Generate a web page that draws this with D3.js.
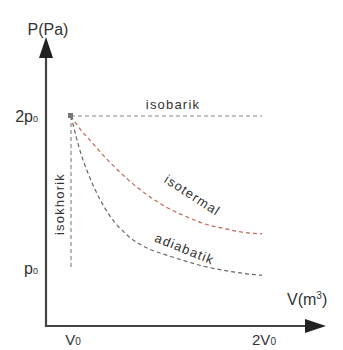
<!DOCTYPE html>
<html><head><meta charset="utf-8">
<script src="https://cdn.jsdelivr.net/npm/d3@7"></script>
<style>body{margin:0;background:#fff}svg{display:block}text{font-family:"Liberation Sans",Arial,sans-serif;fill:#333}</style>
</head><body><svg id="c" width="343" height="350"></svg>
<script>
const volumes = [1, 1.05, 1.1, 1.2, 1.3, 1.4, 1.5, 1.6, 1.7, 1.8, 1.9, 2.0];
const isotermal = [2.0, 1.91, 1.84, 1.70, 1.58, 1.48, 1.40, 1.34, 1.29, 1.26, 1.235, 1.225];
const adiabatik = [2.0, 1.76, 1.59, 1.35, 1.21, 1.13, 1.085, 1.045, 1.01, 0.985, 0.965, 0.952];
const xTicks = [{v:1, label:"V", sub:"0"}, {v:2, label:"2V", sub:"0"}];
const yTicks = [{p:2, label:"2p", sub:"0"}, {p:1, label:"p", sub:"0"}];

const svg = d3.select("#c");
const x = d3.scaleLinear().domain([1, 2]).range([71, 262]);
const y = d3.scaleLinear().domain([1, 2]).range([268, 116]);
const axisX0 = x.invert(46), axisY0 = y.invert(326);

// axes
const axCol = "#444";
svg.append("line").attr("x1", x(axisX0)).attr("x2", x(axisX0)).attr("y1", y(axisY0)+1).attr("y2", 56)
  .attr("stroke", axCol).attr("stroke-width", 2.2);
svg.append("line").attr("x1", x(axisX0)-1).attr("x2", 308).attr("y1", y(axisY0)).attr("y2", y(axisY0))
  .attr("stroke", axCol).attr("stroke-width", 2.2);
svg.append("path").attr("d", `M${x(axisX0)},37 L${x(axisX0)-7},58 L${x(axisX0)+7},58 Z`).attr("fill", "#222");
svg.append("path").attr("d", `M326,${y(axisY0)} L305,${y(axisY0)-7} L305,${y(axisY0)+7} Z`).attr("fill", "#222");

// axis labels
svg.append("text").attr("x", 48).attr("y", 35).attr("text-anchor", "middle").attr("font-size", 16).text("P(Pa)");
const vl = svg.append("text").attr("x", 287).attr("y", 305).attr("font-size", 16);
vl.append("tspan").text("V(m");
vl.append("tspan").attr("font-size", 10).attr("dy", -6).text("3");
vl.append("tspan").attr("dy", 6).text(")");

// tick labels
yTicks.forEach(t => {
  const tx = svg.append("text").attr("x", 38).attr("y", y(t.p) + 6).attr("text-anchor", "end").attr("font-size", 16);
  tx.append("tspan").text(t.label);
  tx.append("tspan").attr("font-size", 9).text(t.sub);
});
xTicks.forEach(t => {
  const tx = svg.append("text").attr("x", x(t.v) + 2).attr("y", 345).attr("text-anchor", "middle").attr("font-size", 15);
  tx.append("tspan").text(t.label);
  tx.append("tspan").attr("font-size", 10).text(t.sub);
});

// processes
const dash = "4,3";
svg.append("line").attr("x1", x(1)).attr("x2", x(2)).attr("y1", y(2)).attr("y2", y(2))
  .attr("stroke", "#888").attr("stroke-width", 1.2).attr("stroke-dasharray", dash);
svg.append("line").attr("x1", x(1)).attr("x2", x(1)).attr("y1", y(2)).attr("y2", y(1))
  .attr("stroke", "#888").attr("stroke-width", 1.2).attr("stroke-dasharray", dash);
const line = d3.line().x(d => x(d[0])).y(d => y(d[1])).curve(d3.curveMonotoneX);
svg.append("path").attr("d", line(volumes.map((v, i) => [v, isotermal[i]])))
  .attr("fill", "none").attr("stroke", "#c2665a").attr("stroke-width", 1.2).attr("stroke-dasharray", dash);
svg.append("path").attr("d", line(volumes.map((v, i) => [v, adiabatik[i]])))
  .attr("fill", "none").attr("stroke", "#666").attr("stroke-width", 1.2).attr("stroke-dasharray", dash);
svg.append("rect").attr("x", x(1)-3).attr("y", y(2)-3).attr("width", 5).attr("height", 5).attr("fill", "#777");

// process labels
const lab = (tr, s) => svg.append("text").attr("transform", tr).attr("text-anchor", "middle")
  .attr("font-size", 13).attr("letter-spacing", 1.2).text(s);
lab("translate(173,109)", "isobarik");
lab("translate(64,204) rotate(-90)", "isokhorik");
lab("translate(190,199) rotate(33)", "isotermal");
lab("translate(183,253) rotate(22)", "adiabatik");
</script></body></html>
